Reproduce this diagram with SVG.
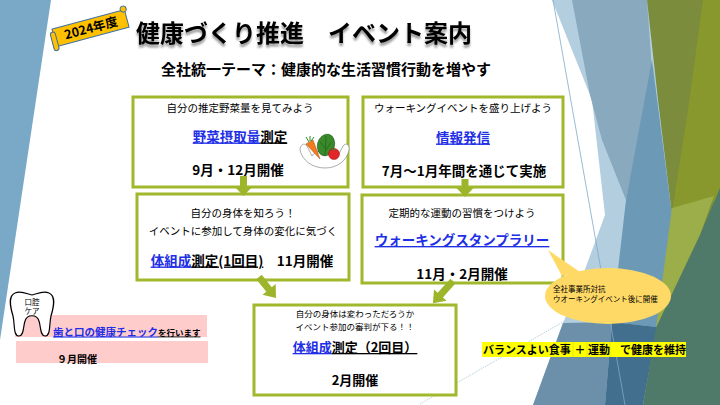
<svg xmlns="http://www.w3.org/2000/svg" width="720" height="405" viewBox="0 0 720 405">
<defs>
<style>
text{font-family:"Noto Sans CJK JP","Noto Sans",sans-serif;fill:#000}
.b{font-weight:bold}
.s{font-size:10.5px}
.m{font-size:13.5px;font-weight:bold}
.lk{fill:#1f2fe6;text-decoration:underline}
.ul{text-decoration:underline}
.box{fill:#fff;stroke:#a0b82c;stroke-width:3}
.arr{fill:#9db52b}
</style>
<filter id="sh" x="-5%" y="-30%" width="110%" height="170%">
<feGaussianBlur in="SourceAlpha" stdDeviation="1.2"/>
<feOffset dy="2.5" result="o"/>
<feComponentTransfer><feFuncA type="linear" slope="0.4"/></feComponentTransfer>
<feMerge><feMergeNode/><feMergeNode in="SourceGraphic"/></feMerge>
</filter>
</defs>
<rect width="720" height="405" fill="#fff"/>
<g id="background">
<polygon points="0,0 51,0 0,340" fill="#79a9c7"/>
<polygon points="552,0 720,0 720,405 533,405 563,323 580,283 605,215 592,100" fill="#b3cfdf"/>
<polygon points="572,0 647,0 652,70 626,200 602,140 590,95" fill="#88a9be"/>
<polygon points="652,60 672,215 657,327 612,322 626,200" fill="#6c99b5"/>
<polygon points="563,323 612,322 605,405 533,405" fill="#6c90aa"/>
<polygon points="612,322 657,327 643,405 605,405" fill="#436f8f"/>
<polygon points="647,0 720,0 720,215 657,327 672,215 658,100" fill="#7b8c3c"/>
<polygon points="703,0 720,0 720,200 672,212 688,110" fill="#88982c"/>
<polygon points="672,208 714,196 700,235 656,328" fill="#9bae4a"/>
<polygon points="720,188 720,405 643,405 656,328 700,235" fill="#4f7a69"/>
<line x1="553" y1="0" x2="625" y2="405" stroke="#7fa9c6" stroke-width="0.8"/>
<line x1="420" y1="404" x2="570" y2="318" stroke="#a6c6db" stroke-width="0.8" stroke-dasharray="1.5,1"/>
</g>
<g id="year-ribbon" transform="translate(91,28) rotate(-15)">
<rect x="-38" y="-9" width="75" height="18" fill="#ffc000" stroke="#3f6f99" stroke-width="1"/>
<rect x="-41" y="-6" width="5" height="19" rx="2.5" fill="#ffc000" stroke="#3f6f99" stroke-width="1"/>
<circle cx="36" cy="-10" r="3" fill="#ffc000" stroke="#3f6f99" stroke-width="1"/>
<text x="0" y="4.5" text-anchor="middle" class="b" font-size="12.5">2024年度</text>
</g>
<g id="title">
<text x="136" y="42" class="b" font-size="24" filter="url(#sh)">健康づくり推進　イベント案内</text>
<text x="326" y="75" text-anchor="middle" class="b" font-size="15">全社統一テーマ：健康的な生活習慣行動を増やす</text>
</g>
<g id="node-vegetable">
<rect class="box" x="133" y="97" width="215" height="90"/>
<text x="240" y="112" text-anchor="middle" class="s">自分の推定野菜量を見てみよう</text>
<text x="240" y="141.5" text-anchor="middle" class="m"><tspan class="lk">野菜摂取量</tspan><tspan class="ul">測定</tspan></text>
<text x="238" y="175" text-anchor="middle" class="m">9月・12月開催</text>
<g id="veg-illust">
<path d="M300,150 C300,145 304,142 307,146 L312,156 C316,150 320,150 325,156 C330,150 334,150 338,156 L343,146 C346,142 350,145 349,150 C347,160 338,168 325,168 C312,168 302,160 300,150 Z" fill="#fff" stroke="#8a8a8a" stroke-width="0.7"/>
<ellipse cx="326" cy="145" rx="8.5" ry="11" transform="rotate(15 326 145)" fill="#3a8a2c" stroke="#1d5a18" stroke-width="0.6"/>
<path d="M326,136 L325,156 M320,142 L325,148 M331,142 L326,150" stroke="#1d5a18" stroke-width="0.6" fill="none"/>
<polygon points="306,144 313,140 320,159" fill="#f47a1e" stroke="#a84800" stroke-width="0.5"/>
<path d="M309,142 L306,137 M310,141 L310,136 M311,141 L314,137" stroke="#2f8a2a" stroke-width="1"/>
<circle cx="334" cy="154" r="5.5" fill="#e2262a" stroke="#9a1010" stroke-width="0.5"/>
<path d="M332,149 L334,150 L336,149" stroke="#2f8a2a" stroke-width="1" fill="none"/>
</g>
</g>
<g id="node-info">
<rect class="box" x="363" y="97" width="200" height="90"/>
<text x="463" y="112" text-anchor="middle" class="s">ウォーキングイベントを盛り上げよう</text>
<text x="463" y="142.5" text-anchor="middle" class="m"><tspan class="lk">情報発信</tspan></text>
<text x="464" y="175.5" text-anchor="middle" class="m">7月～1月年間を通じて実施</text>
</g>
<g id="node-body1">
<rect class="box" x="137" y="194" width="212" height="86"/>
<text x="243" y="217" text-anchor="middle" class="s">自分の身体を知ろう！</text>
<text x="243" y="235" text-anchor="middle" class="s">イベントに参加して身体の変化に気づく</text>
<text x="242" y="265.5" text-anchor="middle" class="m"><tspan class="lk">体組成</tspan><tspan class="ul">測定(1回目)</tspan><tspan>　11月開催</tspan></text>
</g>
<g id="node-stamp">
<rect class="box" x="362" y="195" width="201" height="88"/>
<text x="462" y="217" text-anchor="middle" class="s">定期的な運動の習慣をつけよう</text>
<text x="462" y="245" text-anchor="middle" class="m"><tspan class="lk">ウォーキングスタンプラリー</tspan></text>
<text x="462" y="278.5" text-anchor="middle" class="m">11月・2月開催</text>
</g>
<g id="node-body2">
<rect class="box" x="254" y="305" width="202" height="90"/>
<text x="355" y="317" text-anchor="middle" font-size="8.5">自分の身体は変わっただろうか</text>
<text x="355" y="330" text-anchor="middle" font-size="8.5">イベント参加の審判が下る！！</text>
<text x="355" y="352" text-anchor="middle" class="b" font-size="13"><tspan class="lk">体組成</tspan><tspan class="ul">測定（2回目）</tspan></text>
<text x="355" y="385" text-anchor="middle" class="b" font-size="13">2月開催</text>
</g>
<g id="node-callout">
<path d="M548,250 L562,276 L580,272 Z" fill="#ffd966"/>
<ellipse cx="608" cy="296" rx="63" ry="28" fill="#ffd966"/>
<text x="553" y="292" font-size="7.5">全社事業所対抗</text>
<text x="553" y="302" font-size="7.5">ウオーキングイベント後に開催</text>
</g>
<g id="node-balance">
<rect x="482" y="342" width="204" height="15" fill="#ffff00"/>
<path d="M573,342 V357 M587,342 V357 M610,342 V357" stroke="#d8d800" stroke-width="0.6"/>
<text x="483" y="353.5" class="b" font-size="11">バランスよい食事</text>
<text x="580" y="353.5" text-anchor="middle" class="b" font-size="11">＋</text>
<text x="588" y="353.5" class="b" font-size="11">運動</text>
<text x="620" y="353.5" class="b" font-size="11">で健康を維持</text>
</g>
<g id="node-oral">
<rect x="15" y="315" width="192" height="22" fill="#ffcccc"/>
<rect x="16" y="341" width="192" height="22" fill="#ffcccc"/>
<path d="M13,316 C10,306 8,296 15,293 C21,290 27,294 32,295 C37,294 43,290 49,293 C56,296 54,306 51,316 C49,324 51,336 45,336 C40,336 41,327 39,321 C37,314 27,314 25,321 C23,327 24,336 19,336 C13,336 15,324 13,316 Z" fill="#fff" stroke="#000" stroke-width="1.2"/>
<text x="32" y="304.5" text-anchor="middle" font-size="7.5">口腔</text>
<text x="32" y="314" text-anchor="middle" font-size="7.5">ケア</text>
<text x="53" y="335.5" class="b"><tspan class="lk" font-size="10.5">歯と口の健康チェック</tspan><tspan class="ul" font-size="8.5">を行います</tspan></text>
<text x="57" y="363" class="b" font-size="10">９月開催</text>
</g>
<g id="connectors">
<path class="arr" transform="translate(243.5,176)" d="M-3.5,0 H3.5 V11 H8.5 L0,20 L-8.5,11 H-3.5 Z"/>
<path class="arr" transform="translate(465,179)" d="M-3.5,0 H3.5 V9 H8.5 L0,18 L-8.5,9 H-3.5 Z"/>
<path class="arr" transform="translate(259,277) rotate(-39)" d="M-3.5,0 H3.5 V16 H8.5 L0,27 L-8.5,16 H-3.5 Z"/>
<path class="arr" transform="translate(453,281) rotate(42)" d="M-3.5,0 H3.5 V19 H8.5 L0,30 L-8.5,19 H-3.5 Z"/>
</g>
</svg>
